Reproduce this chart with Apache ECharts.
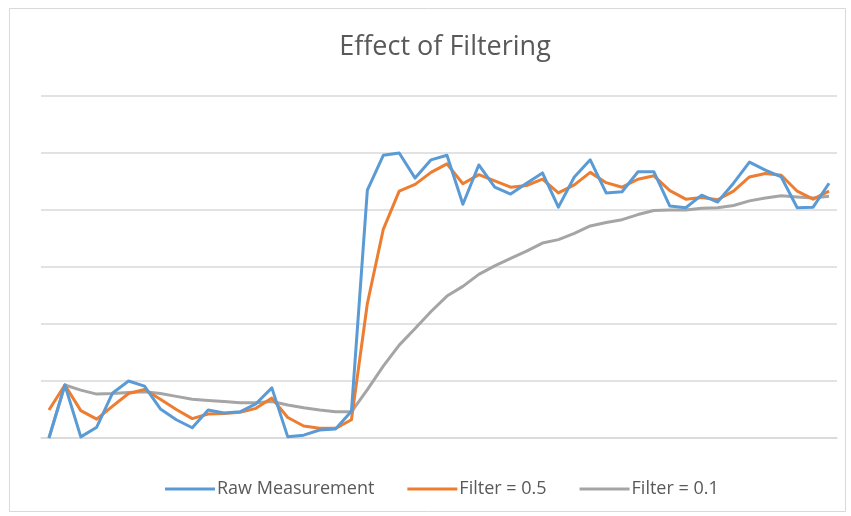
<!DOCTYPE html>
<html>
<head>
<meta charset="utf-8">
<script src="https://cdn.jsdelivr.net/npm/echarts@6/dist/echarts.min.js"></script>
<style>
  html, body { margin: 0; padding: 0; background: #fff; }
  #main { width: 851px; height: 516px; }
</style>
</head>
<body>
<div id="main"></div>
<script>
// 采样点序号 0..49
var samples = [];
for (var i = 0; i < 50; i++) samples.push(i + 1);

// 原始测量值
var rawMeasurement = [0, 0.93, 0.02, 0.19, 0.79, 1.00, 0.91, 0.51, 0.32, 0.18,
    0.49, 0.44, 0.46, 0.60, 0.88, 0.02, 0.05, 0.14, 0.16, 0.47,
    4.35, 4.96, 5.00, 4.56, 4.88, 4.96, 4.10, 4.79, 4.40, 4.28,
    4.47, 4.65, 4.05, 4.58, 4.88, 4.30, 4.32, 4.67, 4.67, 4.07,
    4.04, 4.26, 4.14, 4.47, 4.84, 4.70, 4.58, 4.04, 4.05, 4.47];

// 滤波 0.5
var filterHalf = [0.49, 0.93, 0.48, 0.33, 0.56, 0.78, 0.85, 0.68, 0.50, 0.34,
    0.42, 0.43, 0.45, 0.52, 0.70, 0.36, 0.21, 0.17, 0.17, 0.32,
    2.36, 3.66, 4.33, 4.45, 4.66, 4.81, 4.46, 4.62, 4.51, 4.40,
    4.43, 4.54, 4.30, 4.44, 4.66, 4.48, 4.40, 4.54, 4.60, 4.34,
    4.19, 4.22, 4.18, 4.33, 4.58, 4.64, 4.61, 4.33, 4.19, 4.33];

// 滤波 0.1
var filterTenth = [0, 0.93, 0.84, 0.77, 0.78, 0.80, 0.81, 0.78, 0.73, 0.68,
    0.66, 0.64, 0.62, 0.62, 0.64, 0.58, 0.53, 0.49, 0.46, 0.46,
    0.85, 1.26, 1.63, 1.92, 2.22, 2.49, 2.66, 2.87, 3.02, 3.15,
    3.28, 3.42, 3.48, 3.59, 3.72, 3.78, 3.83, 3.92, 3.99, 4.00,
    4.00, 4.03, 4.04, 4.08, 4.16, 4.21, 4.25, 4.23, 4.21, 4.24];

var seriesNames = ['Raw Measurement', 'Filter = 0.5', 'Filter = 0.1'];
var colors = ['#5b9bd5', '#ed7d31', '#a5a5a5'];

var myChart = echarts.init(document.getElementById('main'));

function lineSeries(idx, data) {
    return {
        name: seriesNames[idx],
        type: 'line',
        data: data,
        symbol: 'none',
        smooth: false,
        z: 10 - idx,
        lineStyle: { color: colors[idx], width: 3, join: 'round' },
        itemStyle: { color: colors[idx] }
    };
}

var option = {
    backgroundColor: '#fff',
    animation: false,
    color: colors,
    title: {
        text: 'Effect of Filtering',
        left: 440,
        top: 29,
        textAlign: 'center',
        textStyle: {
            fontFamily: 'Open Sans',
            fontSize: 27,
            fontWeight: 'normal',
            color: '#595959'
        }
    },
    legend: {
        data: seriesNames,
        top: 475,
        left: 160,
        icon: 'rect',
        itemWidth: 50,
        itemHeight: 3,
        itemGap: 33,
        textStyle: {
            fontFamily: 'Open Sans',
            fontSize: 18,
            color: '#595959',
            padding: [0, 0, 0, -3]
        }
    },
    grid: {
        left: 41,
        right: 14,
        top: 96,
        bottom: 78
    },
    xAxis: {
        type: 'category',
        data: samples,
        boundaryGap: true,
        axisLine: { show: true, lineStyle: { color: '#d9d9d9', width: 1.5 } },
        axisTick: { show: false },
        axisLabel: { show: false },
        splitLine: { show: false }
    },
    yAxis: {
        type: 'value',
        min: 0,
        max: 6,
        interval: 1,
        axisLine: { show: false },
        axisTick: { show: false },
        axisLabel: { show: false },
        splitLine: { lineStyle: { color: '#d9d9d9', width: 1.5 } }
    },
    graphic: [{
        type: 'rect',
        shape: { x: 9.5, y: 8.5, width: 836, height: 503 },
        style: { fill: 'none', stroke: '#d9d9d9', lineWidth: 1 },
        z: -1
    }],
    series: [
        lineSeries(0, rawMeasurement),
        lineSeries(1, filterHalf),
        lineSeries(2, filterTenth)
    ]
};

myChart.setOption(option);
window.addEventListener('resize', function () {
    myChart.resize();
});
</script>
</body>
</html>
